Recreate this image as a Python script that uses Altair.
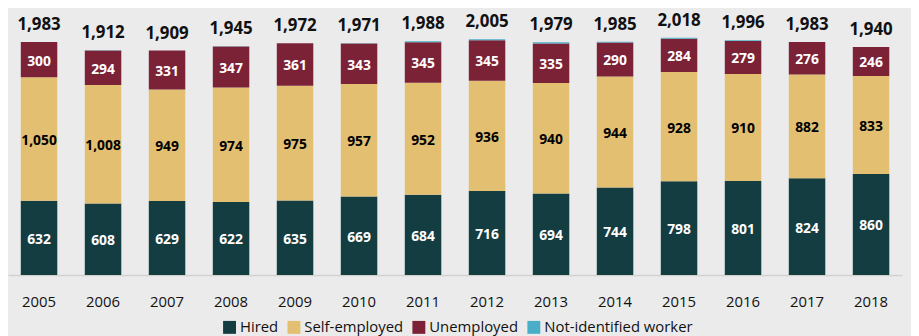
import altair as alt
import pandas as pd

years = ["2005", "2006", "2007", "2008", "2009", "2010", "2011",
         "2012", "2013", "2014", "2015", "2016", "2017", "2018"]
hired = [632, 608, 629, 622, 635, 669, 684, 716, 694, 744, 798, 801, 824, 860]
self_employed = [1050, 1008, 949, 974, 975, 957, 952, 936, 940, 944, 928, 910, 882, 833]
unemployed = [300, 294, 331, 347, 361, 343, 345, 345, 335, 290, 284, 279, 276, 246]
not_identified = [1, 2, 0, 2, 1, 2, 7, 8, 10, 7, 8, 6, 1, 1]
totals = [1983, 1912, 1909, 1945, 1972, 1971, 1988, 2005, 1979, 1985, 2018, 1996, 1983, 1940]

series = ["Hired", "Self-employed", "Unemployed", "Not-identified worker"]
colors = ["#143d42", "#e3bf72", "#7b2237", "#4aaec8"]
label_colors = ["white", "black", "white", "white"]

rows = []
for i, y in enumerate(years):
    for k, (name, vals) in enumerate(zip(series, [hired, self_employed, unemployed, not_identified])):
        rows.append({"year": y, "series": name, "value": vals[i], "order": k,
                     "lc": label_colors[k]})
df = pd.DataFrame(rows)
tot_df = pd.DataFrame({"year": years, "total": totals})

FONT = "Open Sans"
x_enc = alt.X("year:N", sort=years, title=None,
              scale=alt.Scale(paddingInner=0.43, paddingOuter=0.2),
              axis=alt.Axis(labelAngle=0, ticks=False, labelFontSize=15,
                            labelColor="#111111", labelFont=FONT, labelPadding=20,
                            domainColor="#d2d2d2", domainWidth=1.5))
y_scale = alt.Scale(domain=[0, 2200])

bars = alt.Chart(df).mark_bar().encode(
    x=x_enc,
    y=alt.Y("value:Q", stack="zero", scale=y_scale, axis=None),
    color=alt.Color("series:N", sort=series,
                    scale=alt.Scale(domain=series, range=colors),
                    legend=alt.Legend(title=None, orient="none", direction="horizontal",
                                      legendX=216, legendY=306,
                                      symbolType="square", symbolSize=170,
                                      symbolStrokeWidth=0, symbolOpacity=1,
                                      labelFontSize=15, labelFont=FONT,
                                      labelColor="#111111", columnPadding=8,
                                      symbolOffset=0, labelOffset=3)),
    order=alt.Order("order:Q"),
)

seg_df = df[df["series"] != "Not-identified worker"]
seg_labels = alt.Chart(seg_df).transform_stack(
    stack="value", groupby=["year"], as_=["v0", "v1"],
    sort=[alt.SortField("order", "ascending")]
).transform_calculate(
    mid="(datum.v0 + datum.v1) / 2"
).mark_text(font=FONT, fontWeight="bold", fontSize=14, dy=2).encode(
    x=alt.X("year:N", sort=years),
    y=alt.Y("mid:Q", scale=y_scale),
    text=alt.Text("value:Q", format=","),
    color=alt.Color("lc:N", scale=None),
)

tot_labels = alt.Chart(tot_df).mark_text(
    font=FONT, fontWeight="bold", fontSize=17, dy=-17, color="#111111"
).encode(
    x=alt.X("year:N", sort=years),
    y=alt.Y("total:Q", scale=y_scale),
    text=alt.Text("total:Q", format=","),
)

chart = alt.layer(bars, seg_labels, tot_labels).properties(
    width=902, height=261,
    autosize=alt.AutoSizeParams(type="none"),
    padding={"left": 0, "top": 7, "right": 9, "bottom": 60},
    background="#ebebeb"
).configure_view(stroke=None)

chart.save("out.html", embed_options={"renderer": "svg", "actions": False})
